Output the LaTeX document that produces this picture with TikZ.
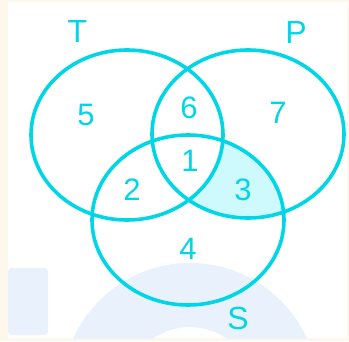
\documentclass[tikz,border=0pt]{standalone}
\usepackage{fontspec}
\setmainfont{Liberation Sans}
\definecolor{vcyan}{HTML}{00D6E6}
\definecolor{vshade}{HTML}{CFFAFD}
\definecolor{wmark}{HTML}{E9F1FC}
\definecolor{cream}{HTML}{FEF7EC}
\tikzset{
  setline/.style={draw=vcyan, line width=3.6pt},
  lbl/.style={text=vcyan, inner sep=0pt, font=\fontsize{31}{36}\selectfont},
  setlbl/.style={text=vcyan, inner sep=0pt, font=\fontsize{32}{38}\selectfont}
}
\begin{document}
\begin{tikzpicture}[x=1pt,y=1pt]
\useasboundingbox (0,0) rectangle (349,341);
% background
\fill[cream] (0,0) rectangle (349,341);
\fill[white] (8,3) rectangle (347,339);
% watermark
\begin{scope}
  \clip (8,3) rectangle (347,339);
  \fill[wmark, even odd rule] (190,-50) circle[radius=128] (190,-50) circle[radius=64];
  \fill[wmark, rounded corners=4pt] (8,6) -- (8,73) -- (48,73) -- (48,6) -- cycle;
\end{scope}
% shaded region P and S without T
\begin{scope}
  \clip (248,207) ellipse[x radius=96, y radius=84];
  \clip (188,121) ellipse[x radius=96, y radius=85];
  \fill[vshade, even odd rule] (0,0) rectangle (349,341) (127,206) ellipse[x radius=96, y radius=85];
\end{scope}
% circles
\draw[setline] (127,206) ellipse[x radius=96, y radius=85];
\draw[setline] (248,207) ellipse[x radius=96, y radius=84];
\draw[setline] (188,121) ellipse[x radius=96, y radius=85];
% labels
\node[setlbl] (T) at (77.5,310) {T};
\node[setlbl] (P) at (296,309) {P};
\node[setlbl] (S) at (238,23) {S};
\node[lbl] (n5) at (86,226) {5};
\node[lbl] (n6) at (189,233) {6};
\node[lbl] (n7) at (278,228) {7};
\node[lbl] (n1) at (190,180) {1};
\node[lbl] (n2) at (132,151) {2};
\node[lbl] (n3) at (243,151) {3};
\node[lbl] (n4) at (188,92) {4};
\end{tikzpicture}
\end{document}
